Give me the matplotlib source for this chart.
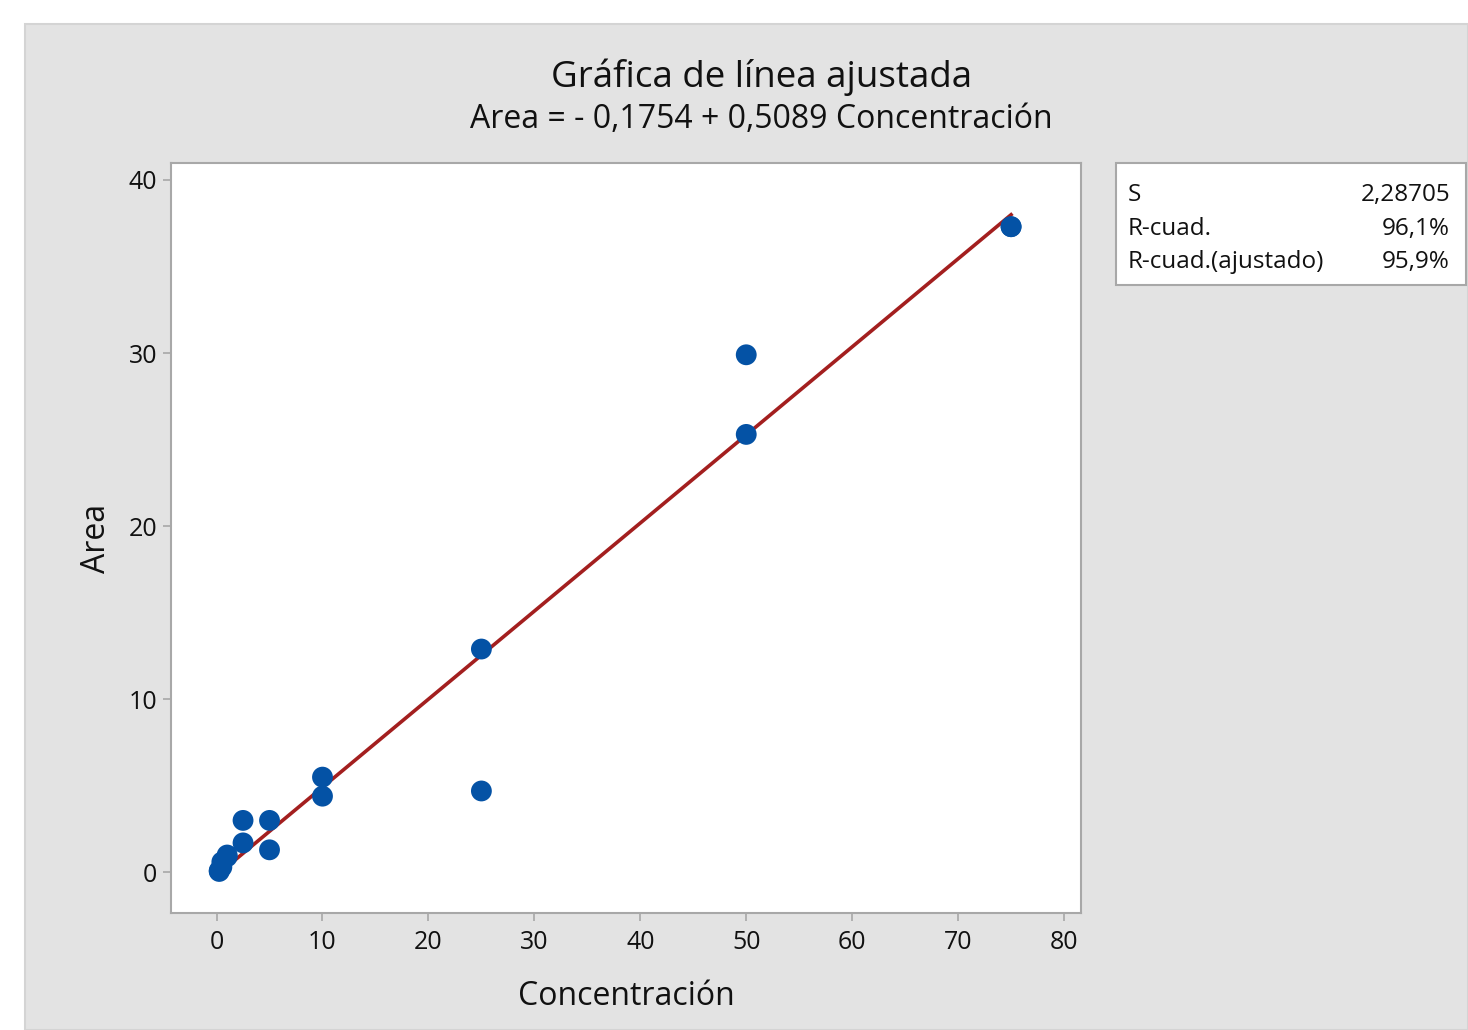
import matplotlib

matplotlib.use("Agg")
import matplotlib.pyplot as plt
from matplotlib.patches import Rectangle
import numpy as np

plt.rcParams["font.family"] = ["Open Sans", "DejaVu Sans"]

# data
concentracion = [0.25, 0.25, 0.5, 0.5, 1, 1, 2.5, 2.5, 5, 5, 10, 10, 25, 25, 50, 50, 75, 75]
area = [0.05, 0.1, 0.3, 0.6, 0.9, 1.0, 1.7, 3.0, 1.3, 3.0, 4.4, 5.5, 4.7, 12.9, 25.3, 29.9, 37.3, 37.3]
intercept = -0.1754
slope = 0.5089
stats_labels = ["S", "R-cuad.", "R-cuad.(ajustado)"]
stats_values = ["2,28705", "96,1%", "95,9%"]
x_ticks = [0, 10, 20, 30, 40, 50, 60, 70, 80]
y_ticks = [0, 10, 20, 30, 40]

W, H = 1468, 1030
fig = plt.figure(figsize=(W / 100, H / 100), dpi=100)
fig.patch.set_facecolor("white")
fig.patches.append(
    Rectangle((25 / W, 0), 1 - 25 / W, 1 - 24 / H, transform=fig.transFigure,
              facecolor="#e3e3e3", edgecolor="#d4d4d4", linewidth=1.5, zorder=-5)
)

ax = fig.add_axes([171 / W, 1 - 913 / H, 910 / W, 750 / H])
ax.set_facecolor("white")

xfit = np.array([min(concentracion), max(concentracion)])
ax.plot(xfit, intercept + slope * xfit, color="#a31f1f", linewidth=2.6, zorder=2)
ax.scatter(concentracion, area, s=225, color="#0452a5", edgecolors="none", zorder=3)

ax.set_xlim(-4.3, 81.6)
ax.set_ylim(-2.35, 40.98)
ax.set_xticks(x_ticks)
ax.set_yticks(y_ticks)
for sp in ax.spines.values():
    sp.set_color("#a8a8a8")
    sp.set_linewidth(1.5)
ax.tick_params(colors="#a8a8a8", labelcolor="#111111", labelsize=18, length=6, width=1.2, pad=6)
ax.tick_params(axis="y", pad=4)

ax.set_xlabel("Concentración", fontsize=23, labelpad=18, color="#111111")
ax.set_ylabel("Area", fontsize=23, labelpad=11, color="#111111")

fig.text(762 / W, 1 - 77 / H, "Gráfica de línea ajustada", fontsize=26.5, ha="center", va="center", color="#111111")
fig.text(761 / W, 1 - 119 / H, "Area = - 0,1754 + 0,5089 Concentración", fontsize=23, ha="center", va="center", color="#111111")

# stats box
fig.patches.append(
    Rectangle((1116 / W, 1 - 285 / H), 350 / W, 122 / H, transform=fig.transFigure,
              facecolor="white", edgecolor="#a8a8a8", linewidth=1.5, zorder=1)
)
for i, (lab, val) in enumerate(zip(stats_labels, stats_values)):
    y = 1 - (195 + i * 33.5) / H
    fig.text(1128 / W, y, lab, fontsize=17.5, ha="left", va="center", color="#111111")
    fig.text(1450 / W, y, val, fontsize=17.5, ha="right", va="center", color="#111111")

fig.savefig("out.png", dpi=100)
